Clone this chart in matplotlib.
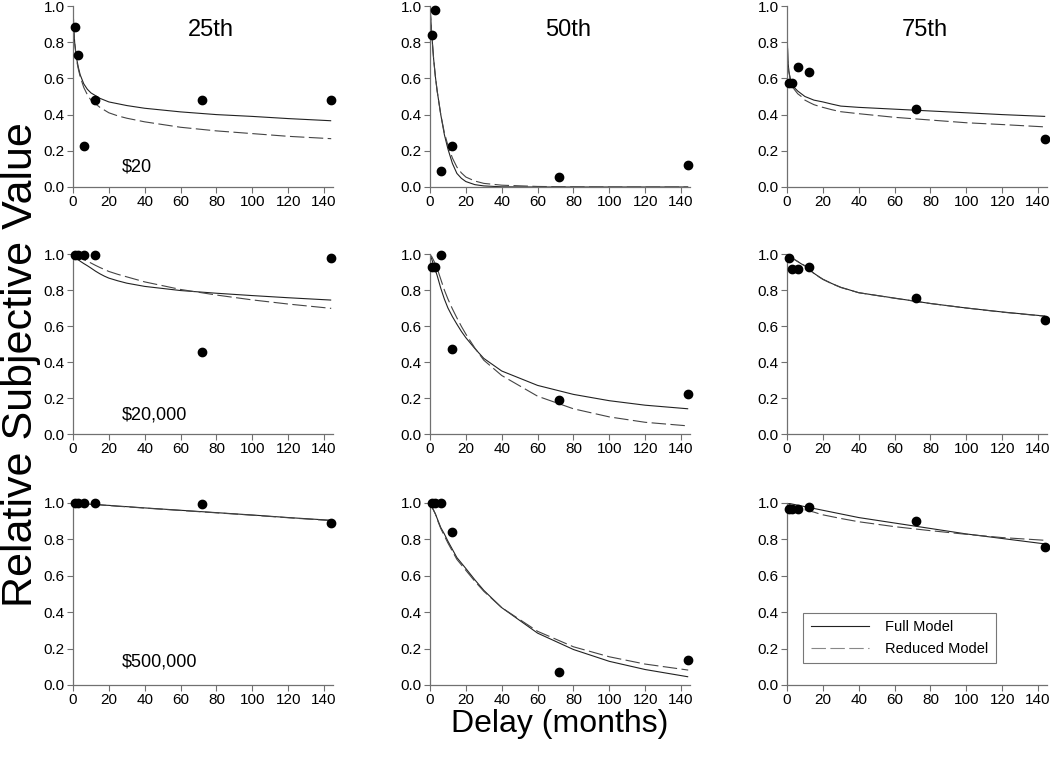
import matplotlib
matplotlib.use('Agg')
import matplotlib.pyplot as plt
from matplotlib.lines import Line2D

plt.rcParams['font.family'] = ['Liberation Sans', 'DejaVu Sans']

# * 관측 지연(개월)
delay = [1, 3, 6, 12, 72, 144]
percentiles = ['25th', '50th', '75th']
amounts = [r'\$20', r'\$20,000', r'\$500,000']

# * 관측값 (row: 금액, col: 25th / 50th / 75th)
obs_20 = [
  [0.885, 0.73, 0.227, 0.48, 0.48, 0.48],
  [0.84, 0.98, 0.09, 0.225, 0.055, 0.12],
  [0.573, 0.573, 0.665, 0.635, 0.43, 0.265],
]
obs_20000 = [
  [0.995, 0.995, 0.995, 0.995, 0.457, 0.978],
  [0.93, 0.93, 0.993, 0.472, 0.19, 0.22],
  [0.976, 0.915, 0.915, 0.93, 0.754, 0.633],
]
obs_500000 = [
  [0.998, 0.998, 0.998, 0.998, 0.995, 0.888],
  [0.998, 0.998, 0.998, 0.839, 0.071, 0.137],
  [0.965, 0.965, 0.965, 0.98, 0.90, 0.76],
]

# * 모델 곡선
curve_delay = [0, 0.5, 1, 2, 3, 4, 6, 8, 10, 12.5, 15, 17.5, 20, 25, 30, 40, 60, 80, 100, 120, 144]

full_20 = [
  [1.0, 0.86, 0.79, 0.71, 0.66, 0.62, 0.57, 0.54, 0.52, 0.505, 0.49, 0.48, 0.47, 0.46, 0.45, 0.435, 0.415, 0.40, 0.39, 0.378, 0.366],
  [1.0, 0.92, 0.84, 0.71, 0.61, 0.53, 0.40, 0.29, 0.21, 0.13, 0.075, 0.048, 0.03, 0.013, 0.006, 0.001, 0.0, 0.0, 0.0, 0.0, 0.0],
  [0.87, 0.70, 0.64, 0.59, 0.565, 0.55, 0.53, 0.515, 0.50, 0.49, 0.48, 0.475, 0.47, 0.458, 0.447, 0.44, 0.43, 0.42, 0.41, 0.40, 0.39],
]
reduced_20 = [
  [1.0, 0.86, 0.79, 0.70, 0.65, 0.61, 0.55, 0.51, 0.48, 0.46, 0.44, 0.425, 0.41, 0.393, 0.38, 0.36, 0.33, 0.31, 0.295, 0.28, 0.267],
  [1.0, 0.92, 0.84, 0.71, 0.61, 0.53, 0.40, 0.30, 0.23, 0.16, 0.11, 0.078, 0.055, 0.033, 0.02, 0.01, 0.003, 0.001, 0.0, 0.0, 0.0],
  [0.87, 0.70, 0.64, 0.585, 0.56, 0.54, 0.515, 0.50, 0.48, 0.467, 0.455, 0.447, 0.44, 0.427, 0.416, 0.405, 0.385, 0.37, 0.355, 0.345, 0.332],
]
full_20000 = [
  [1.0, 0.995, 0.99, 0.977, 0.968, 0.96, 0.947, 0.935, 0.922, 0.905, 0.89, 0.877, 0.866, 0.851, 0.838, 0.82, 0.797, 0.782, 0.769, 0.757, 0.744],
  [1.0, 0.985, 0.97, 0.94, 0.91, 0.88, 0.81, 0.75, 0.70, 0.652, 0.61, 0.57, 0.535, 0.475, 0.42, 0.35, 0.27, 0.22, 0.185, 0.16, 0.14],
  [1.0, 0.997, 0.993, 0.986, 0.978, 0.97, 0.958, 0.945, 0.935, 0.913, 0.893, 0.876, 0.86, 0.836, 0.815, 0.785, 0.755, 0.725, 0.70, 0.678, 0.655],
]
reduced_20000 = [
  [1.0, 0.998, 0.996, 0.99, 0.985, 0.98, 0.97, 0.96, 0.95, 0.937, 0.925, 0.914, 0.903, 0.887, 0.873, 0.845, 0.803, 0.772, 0.745, 0.722, 0.698],
  [1.0, 0.99, 0.985, 0.965, 0.945, 0.92, 0.86, 0.80, 0.75, 0.695, 0.645, 0.598, 0.555, 0.478, 0.41, 0.325, 0.21, 0.14, 0.095, 0.065, 0.045],
  [1.0, 0.997, 0.994, 0.987, 0.979, 0.971, 0.958, 0.946, 0.934, 0.912, 0.892, 0.875, 0.859, 0.835, 0.814, 0.785, 0.754, 0.725, 0.70, 0.677, 0.654],
]
full_500000 = [
  [1.0, 1.0, 0.999, 0.999, 0.998, 0.997, 0.996, 0.995, 0.993, 0.992, 0.99, 0.988, 0.987, 0.983, 0.98, 0.973, 0.96, 0.947, 0.934, 0.92, 0.905],
  [1.0, 0.99, 0.98, 0.96, 0.94, 0.915, 0.865, 0.83, 0.79, 0.745, 0.70, 0.67, 0.64, 0.578, 0.52, 0.425, 0.285, 0.195, 0.13, 0.085, 0.045],
  [1.0, 0.999, 0.998, 0.996, 0.994, 0.992, 0.988, 0.984, 0.98, 0.975, 0.97, 0.965, 0.96, 0.95, 0.94, 0.92, 0.89, 0.86, 0.83, 0.805, 0.775],
]
reduced_500000 = [
  [1.0, 1.0, 0.999, 0.999, 0.998, 0.997, 0.996, 0.995, 0.993, 0.992, 0.99, 0.988, 0.986, 0.982, 0.979, 0.972, 0.959, 0.946, 0.933, 0.919, 0.903],
  [1.0, 0.99, 0.98, 0.96, 0.94, 0.91, 0.86, 0.82, 0.78, 0.735, 0.69, 0.66, 0.63, 0.57, 0.515, 0.425, 0.295, 0.21, 0.155, 0.115, 0.082],
  [1.0, 0.997, 0.994, 0.99, 0.985, 0.98, 0.975, 0.968, 0.963, 0.956, 0.95, 0.942, 0.935, 0.925, 0.915, 0.897, 0.87, 0.848, 0.828, 0.81, 0.795],
]

obs_rows = [obs_20, obs_20000, obs_500000]
full_rows = [full_20, full_20000, full_500000]
reduced_rows = [reduced_20, reduced_20000, reduced_500000]


def main():
  fig = plt.figure(figsize=(10.5, 7.61), dpi=100)
  W, H = 1050.0, 761.0

  # 패널 위치 (픽셀)
  col_left = [73, 430, 787]
  col_width = 260
  row_span = [(6, 187), (254, 434), (503, 685)]
  # 금액 라벨 y 위치
  amount_y = [0.11, 0.105, 0.125]

  for r in range(3):
    for c in range(3):
      top, bot = row_span[r]
      ax = fig.add_axes([col_left[c] / W, 1 - bot / H, col_width / W, (bot - top) / H])

      ax.plot(curve_delay, full_rows[r][c], color='#222222', lw=0.8, solid_capstyle='butt')
      ax.plot(curve_delay, reduced_rows[r][c], color='#444444', lw=0.8, dashes=(13, 4))
      ax.plot(delay, obs_rows[r][c], 'o', color='black', ms=6, clip_on=False, zorder=5)

      ax.set_xlim(0, 145)
      ax.set_ylim(0, 1)
      ax.set_xticks(range(0, 141, 20))
      ax.set_yticks([0, 0.2, 0.4, 0.6, 0.8, 1.0])
      ax.set_yticklabels(['0.0', '0.2', '0.4', '0.6', '0.8', '1.0'])

      for s in ['top', 'right']:
        ax.spines[s].set_visible(False)
      for s in ['left', 'bottom']:
        ax.spines[s].set_color('#707070')
        ax.spines[s].set_linewidth(0.9)
      ax.tick_params(direction='out', length=4, width=0.8, color='#707070', labelsize=11, pad=2)

      if r == 0:
        ax.text(77, 0.865, percentiles[c], fontsize=17, ha='center', va='center')
      if c == 0:
        ax.text(27, amount_y[r], amounts[r], fontsize=13, ha='left', va='center')

      # 범례 (우측 하단 패널)
      if r == 2 and c == 2:
        handles = [
          Line2D([], [], color='#222222', lw=0.8),
          Line2D([], [], color='#888888', lw=0.8, dashes=(13, 4)),
        ]
        leg = ax.legend(handles, ['Full Model', 'Reduced Model'], loc='lower left',
          bbox_to_anchor=(0.035, 0.08), fontsize=10.5, frameon=True, fancybox=False,
          handlelength=4.0, handletextpad=1.1, borderpad=0.5, labelspacing=0.55)
        leg.get_frame().set_edgecolor('#555555')
        leg.get_frame().set_linewidth(0.8)

  fig.text(560 / W, 1 - 724 / H, 'Delay (months)', fontsize=23, ha='center', va='center')
  fig.text(21 / W, 1 - 365 / H, 'Relative Subjective Value', fontsize=31, ha='center', va='center', rotation=90)

  plt.savefig('out.png', dpi=100)


if __name__ == '__main__':
  main()
